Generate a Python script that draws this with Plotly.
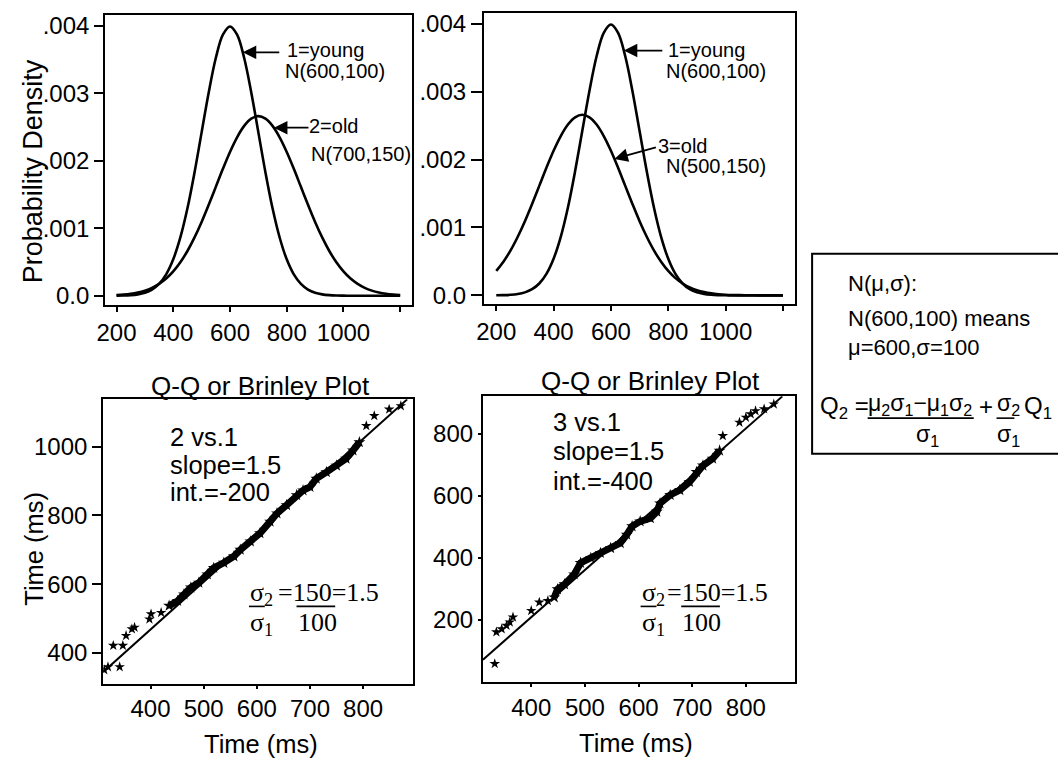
import plotly.graph_objects as go

W, H = 1058, 763


def px(x):
    return x / W


def py(y):
    return 1 - y / H


# ---------------- data ----------------
density_x = list(range(200, 1201, 25))
young_600_100 = [.0000013, .0000035, .0000087, .0000203, .0000443, .0000909, .000175, .000317,
                 .00054, .000863, .001295, .001827, .00242, .003011, .003521, .003867, .003989,
                 .003867, .003521, .003011, .00242, .001827, .001295, .000863, .00054, .000317,
                 .000175, .0000909, .0000443, .0000203, .0000087, .0000035, .0000013,
                 .0000003, .0000001, 0, 0, 0, 0, 0, 0]
old_700_150 = [.0000103, .0000177, .0000295, .0000481, .000076, .000117, .000175, .000254, .00036,
               .000496, .000663, .000864, .001093, .001347, .001613, .00188, .00213, .002347,
               .002516, .002623, .00266, .002623, .002516, .002347, .00213, .00188, .001613,
               .001347, .001093, .000864, .000663, .000496, .00036, .000254, .000175, .000117,
               .000076, .0000481, .0000295, .0000177, .0000103]
old_500_150 = [.00036, .000496, .000663, .000864, .001093, .001347, .001613, .00188, .00213,
               .002347, .002516, .002623, .00266, .002623, .002516, .002347, .00213, .00188,
               .001613, .001347, .001093, .000864, .000663, .000496, .00036, .000254, .000175,
               .000117, .000076, .0000481, .0000295, .0000177, .0000103, .0000058, .0000032,
               .0000017, .0000009, .0000005, .0000002, .0000001, .0000001]

density_ticks = [200, 400, 600, 800, 1000, 1200]
density_ticklabels = ["200", "400", "600", "800", "1000", ""]
prob_ticks = [0, .001, .002, .003, .004]
prob_ticklabels = ["0.0", ".001", ".002", ".003", ".004"]

# Q-Q: 2 vs 1
qq21_band_x = [435, 451, 463, 476, 491, 507, 519, 538, 557, 569, 588, 606, 625, 638, 656, 675,
               687, 700, 712, 731, 750, 768, 781, 793]
qq21_band_y = [537, 551, 570, 590, 604, 628, 647, 662, 681, 700, 724, 748, 782, 806, 830, 859,
               873, 883, 907, 926, 945, 965, 989, 1013]
qq21_sparse_x = [313, 320, 342, 330, 348, 354, 365, 370, 398, 401, 420, 806, 821, 849, 871]
qq21_sparse_y = [350, 359, 359, 421, 421, 450, 469, 474, 498, 513, 517, 1061, 1090, 1109, 1119]
qq21_line_x = [311, 883]
qq21_line_y = [344, 1138]

# Q-Q: 3 vs 1
qq31_band_x = [443, 449, 462, 480, 492, 511, 529, 548, 566, 578, 588, 603, 622, 634, 640, 659,
               677, 695, 708, 720, 738, 751]
qq31_band_y = [273, 299, 315, 347, 384, 400, 416, 432, 448, 475, 502, 518, 528, 549, 576, 603,
               619, 645, 677, 698, 720, 746]
qq31_sparse_x = [332, 335, 345, 354, 360, 366, 400, 415, 431, 757, 788, 800, 809, 818, 834, 852]
qq31_sparse_y = [59, 161, 171, 182, 193, 209, 230, 257, 262, 794, 837, 853, 864, 874, 880, 896]
qq31_line_x = [310, 868]
qq31_line_y = [72, 921]

qq_x_ticks = [400, 500, 600, 700, 800]
qq21_y_ticks = [400, 600, 800, 1000]
qq31_y_ticks = [200, 400, 600, 800]

# ---------------- figure ----------------
SANS = "Liberation Sans"
SERIF = "Liberation Serif"
BLACK = "black"

fig = go.Figure()

curve = dict(color=BLACK, width=2.6, shape="spline")
fig.add_trace(go.Scatter(x=density_x, y=young_600_100, mode="lines", line=curve, xaxis="x", yaxis="y"))
fig.add_trace(go.Scatter(x=density_x, y=old_700_150, mode="lines", line=curve, xaxis="x", yaxis="y"))
fig.add_trace(go.Scatter(x=density_x, y=young_600_100, mode="lines", line=curve, xaxis="x2", yaxis="y2"))
fig.add_trace(go.Scatter(x=density_x, y=old_500_150, mode="lines", line=curve, xaxis="x2", yaxis="y2"))

star = dict(symbol="star", size=8, color=BLACK, line=dict(width=0))
for (bx, by, sx, sy, lx, ly, xa, ya) in [
    (qq21_band_x, qq21_band_y, qq21_sparse_x, qq21_sparse_y, qq21_line_x, qq21_line_y, "x3", "y3"),
    (qq31_band_x, qq31_band_y, qq31_sparse_x, qq31_sparse_y, qq31_line_x, qq31_line_y, "x4", "y4"),
]:
    fig.add_trace(go.Scatter(x=lx, y=ly, mode="lines", line=dict(color=BLACK, width=2),
                             xaxis=xa, yaxis=ya))
    fig.add_trace(go.Scatter(x=bx, y=by, mode="lines+markers", line=dict(color=BLACK, width=7),
                             marker=dict(star, size=9), xaxis=xa, yaxis=ya))
    fig.add_trace(go.Scatter(x=sx, y=sy, mode="markers", marker=star, xaxis=xa, yaxis=ya))


def axis(dom, rng, tickvals, ticktext=None, ticklen=7, anchor=None):
    d = dict(domain=dom, range=rng, tickvals=tickvals, showline=True, linecolor=BLACK,
             linewidth=2, mirror=True, ticks="outside", ticklen=ticklen, tickwidth=2,
             tickcolor=BLACK, showgrid=False, zeroline=False,
             tickfont=dict(family=SANS, size=24, color=BLACK), anchor=anchor)
    if ticktext is not None:
        d["ticktext"] = ticktext
    return d


layout = dict(
    width=W, height=H, margin=dict(l=0, r=0, t=0, b=0),
    paper_bgcolor="white", plot_bgcolor="white", showlegend=False,
    font=dict(family=SANS, color=BLACK),
    xaxis=axis([px(97), px(406)], [160, 1240], density_ticks, density_ticklabels, 5, "y"),
    yaxis=axis([py(305), py(12)], [-0.00014, 0.00416], prob_ticks, prob_ticklabels, 9, "x"),
    xaxis2=axis([px(479), px(793)], [157, 1243], density_ticks, density_ticklabels, 5, "y2"),
    yaxis2=axis([py(304), py(10)], [-0.00013, 0.00416], prob_ticks, prob_ticklabels, 11, "x2"),
    xaxis3=axis([px(95), px(407)], [311, 893], qq_x_ticks, None, 3, "y3"),
    yaxis3=axis([py(687), py(400)], [310, 1138], qq21_y_ticks, None, 9, "x3"),
    xaxis4=axis([px(478), px(793)], [310, 892], qq_x_ticks, None, 3, "y4"),
    yaxis4=axis([py(685), py(397)], [1, 921], qq31_y_ticks, None, 3, "x4"),
)
fig.update_layout(**layout)

ann = []


def text(t, x, y, size, xanchor="left", family=SANS, angle=0):
    ann.append(dict(text=t, x=px(x), y=py(y), xref="paper", yref="paper", showarrow=False,
                    xanchor=xanchor, yanchor="middle", textangle=angle, borderpad=0,
                    font=dict(family=family, size=size, color=BLACK)))


def arrow(xd, yd, xa, ya, ax, ay):
    ann.append(dict(text="", x=xd, y=yd, xref=xa, yref=ya, showarrow=True, ax=ax, ay=ay,
                    axref="pixel", ayref="pixel", arrowhead=2, arrowsize=1.5,
                    arrowwidth=1.8, arrowcolor=BLACK, standoff=0, startstandoff=0))


# axis titles and panel titles
text("Probability Density", 25, 170, 27, "center", angle=-90)
text("Time (ms)", 25, 551, 25.5, "center", angle=-90)
text("Time (ms)", 254, 748, 25.5, "center")
text("Time (ms)", 632, 747, 25.5, "center")
text("Q-Q or Brinley Plot", 254, 387, 26, "center")
text("Q-Q or Brinley Plot", 647, 382, 26, "center")

# density labels with arrows
arrow(645, .003606, "x", "y", 38, 0)
text("1=young", 279, 47, 20)
text("N(600,100)", 277, 69, 20)
arrow(755, .00249, "x", "y", 36, 0)
text("2=old", 302, 124, 20)
text("N(700,150)", 304, 152, 20)

arrow(645, .003606, "x2", "y2", 40, 0)
text("1=young", 664, 47, 20)
text("N(600,100)", 662, 69, 20)
arrow(612, .00201, "x2", "y2", 43, -12)
text("3=old", 654, 144, 20)
text("N(500,150)", 662, 165, 20)

# Q-Q panel notes
text("2 vs.1", 161, 438, 25.5)
text("slope=1.5", 161, 466, 25.5)
text("int.=-200", 161, 494, 25.5)
text("3 vs.1", 548, 423, 25.5)
text("slope=1.5", 548, 452, 25.5)
text("int.=-400", 548, 482, 25.5)

shapes = []


def bar(x0, x1, y):
    shapes.append(dict(type="line", xref="paper", yref="paper", x0=px(x0), x1=px(x1),
                       y0=py(y), y1=py(y), line=dict(color=BLACK, width=1.6)))


for (x0, eqx, numx) in [(242, 270, 290), (637, 663, 678)]:
    text("σ<sub>2</sub>", x0, 596, 26, family=SERIF)
    text("=150=1.5", eqx, 595, 26, family=SERIF)
    text("σ<sub>1</sub>", x0, 627, 26, family=SERIF)
    text("100", numx, 625, 26, family=SERIF)
    bar(x0, x0 + 16, 609)
    bar(numx, numx + 39, 609)

# explanation box
shapes.append(dict(type="rect", xref="paper", yref="paper", x0=px(810), x1=px(1075),
                   y0=py(455), y1=py(253), line=dict(color=BLACK, width=2),
                   fillcolor="rgba(0,0,0,0)"))
text("N(μ,σ):", 845, 283, 22)
text("N(600,100) means", 845, 318, 22)
text("μ=600,σ=100", 845, 348, 22)
text("Q<sub>2</sub> =", 817, 408, 24)
text("μ<sub>2</sub>σ<sub>1</sub>−μ<sub>1</sub>σ<sub>2</sub>", 919, 405, 23, "center")
bar(866, 973, 419)
text("σ<sub>1</sub>", 926, 437, 23, "center")
text("+", 985, 407, 24, "center")
text("σ<sub>2</sub>", 995, 405, 23)
bar(996, 1014, 419)
text("σ<sub>1</sub>", 995, 437, 23)
text("Q<sub>1</sub>", 1023, 408, 24)

fig.update_layout(annotations=ann, shapes=shapes)
fig.write_html("out.html")
